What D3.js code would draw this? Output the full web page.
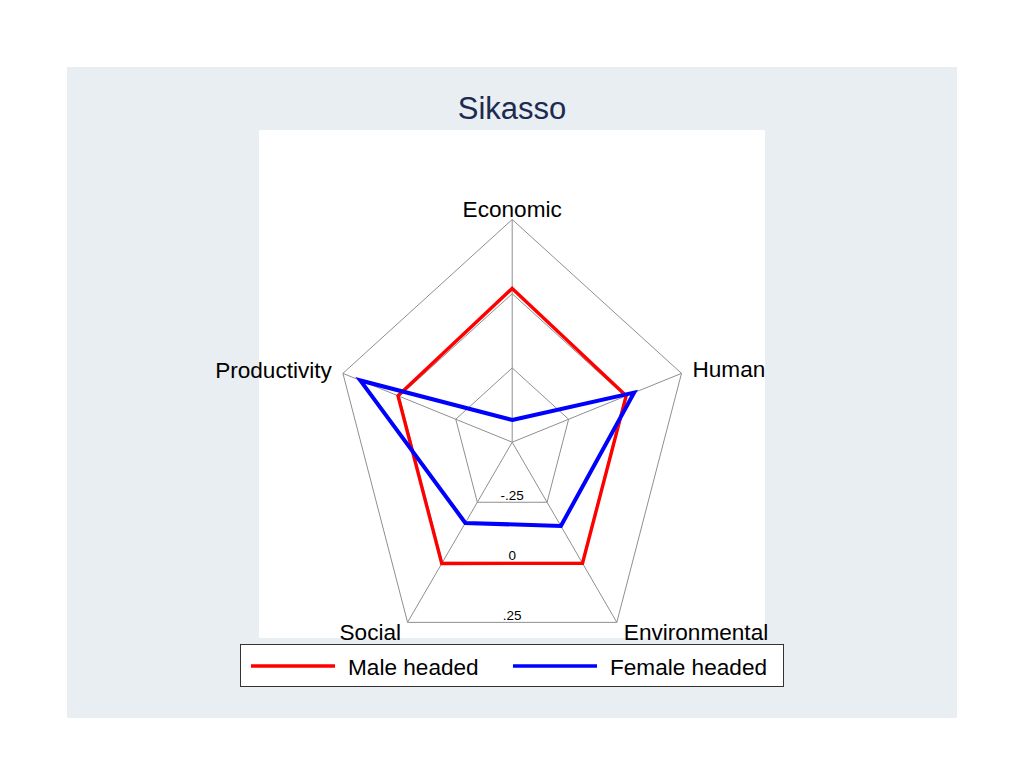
<!DOCTYPE html>
<html>
<head>
<meta charset="utf-8">
<script src="https://cdn.jsdelivr.net/npm/d3@7/dist/d3.min.js"></script>
<style>
  html, body { margin: 0; padding: 0; background: #ffffff; }
  svg { display: block; font-family: "Liberation Sans", Arial, Helvetica, sans-serif; }
</style>
</head>
<body>
<svg id="chart" width="1024" height="768"></svg>
<script>
// ---- Data ----
const title = "Sikasso";
const categories = ["Economic", "Human", "Environmental", "Social", "Productivity"];
const maleHeaded = [0.018, 0.005, 0.004, 0.005, 0.006];
const femaleHeaded = [-0.425, 0.040, -0.151, -0.164, 0.173];
const seriesNames = ["Male headed", "Female headed"];
const seriesColors = ["#ff0000", "#0000ff"];
const ringValues = [-0.25, 0, 0.25];
const ringLabels = ["-.25", "0", ".25"];
const valueDomain = [-0.5, 0.25];

// ---- Layout ----
const svg = d3.select("#chart");
const W = 1024, H = 768;
const cx = 512.2, cy = 442.2;
const Rx = 178, Ry = 222.7;

svg.append("rect").attr("x", 0).attr("y", 0).attr("width", W).attr("height", H).attr("fill", "#ffffff");
svg.append("rect").attr("x", 67).attr("y", 67).attr("width", 890).attr("height", 651).attr("fill", "#e8eef1");
svg.append("rect").attr("x", 259).attr("y", 130).attr("width", 506).attr("height", 508).attr("fill", "#ffffff");

svg.append("text").attr("x", 512).attr("y", 119).attr("text-anchor", "middle")
  .attr("font-size", 31).attr("fill", "#1c2b4f").text(title);

const r = d3.scaleLinear().domain(valueDomain).range([0, 1]);
const n = categories.length;
const angle = d3.scaleLinear().domain([0, n]).range([0, 2 * Math.PI]);

function pt(i, v) {
  const a = angle(i);
  const rr = r(v);
  return [cx + Rx * rr * Math.sin(a), cy - Ry * rr * Math.cos(a)];
}

const g = svg.append("g");
const line = d3.line().x(d => d[0]).y(d => d[1]).curve(d3.curveLinearClosed);

// rings
ringValues.forEach(v => {
  g.append("path")
    .attr("d", line(categories.map((c, i) => pt(i, v))))
    .attr("fill", "none").attr("stroke", "#8f8f8f").attr("stroke-width", 1);
});
// spokes
categories.forEach((c, i) => {
  const p = pt(i, valueDomain[1]);
  g.append("line").attr("x1", cx).attr("y1", cy).attr("x2", p[0]).attr("y2", p[1])
    .attr("stroke", "#8f8f8f").attr("stroke-width", 1);
});
// ring labels (along the bottom, centered)
ringValues.forEach((v, k) => {
  const yb = cy + Ry * r(v) * Math.cos(Math.PI / n);
  g.append("text").attr("x", cx).attr("y", yb - 2.5).attr("text-anchor", "middle")
    .attr("font-size", 13.5).attr("fill", "#000").text(ringLabels[k]);
});

// series
[maleHeaded, femaleHeaded].forEach((vals, s) => {
  g.append("path")
    .attr("d", line(vals.map((v, i) => pt(i, v))))
    .attr("fill", "none").attr("stroke", seriesColors[s])
    .attr("stroke-width", s === 0 ? 3.4 : 4).attr("stroke-linejoin", "miter");
});

// category labels
const labelPos = [
  { dx: 0, dy: -3, anchor: "middle" },
  { dx: 11, dy: 4, anchor: "start" },
  { dx: 7, dy: 18, anchor: "start" },
  { dx: -6.5, dy: 18, anchor: "end" },
  { dx: -11, dy: 4.5, anchor: "end" }
];
categories.forEach((c, i) => {
  const p = pt(i, valueDomain[1]);
  g.append("text").attr("x", p[0] + labelPos[i].dx).attr("y", p[1] + labelPos[i].dy)
    .attr("text-anchor", labelPos[i].anchor).attr("font-size", 22.6).attr("fill", "#000").text(c);
});

// legend
const lg = svg.append("g");
lg.append("rect").attr("x", 240.5).attr("y", 644.5).attr("width", 543).attr("height", 42)
  .attr("fill", "#ffffff").attr("stroke", "#333333").attr("stroke-width", 1);
const keyX = [251, 513];
seriesNames.forEach((name, s) => {
  lg.append("line").attr("x1", keyX[s]).attr("x2", keyX[s] + 84).attr("y1", 666).attr("y2", 666)
    .attr("stroke", seriesColors[s]).attr("stroke-width", 3.6);
  lg.append("text").attr("x", keyX[s] + 97).attr("y", 674.5).attr("font-size", 22.6)
    .attr("fill", "#000").text(name);
});
</script>
</body>
</html>
